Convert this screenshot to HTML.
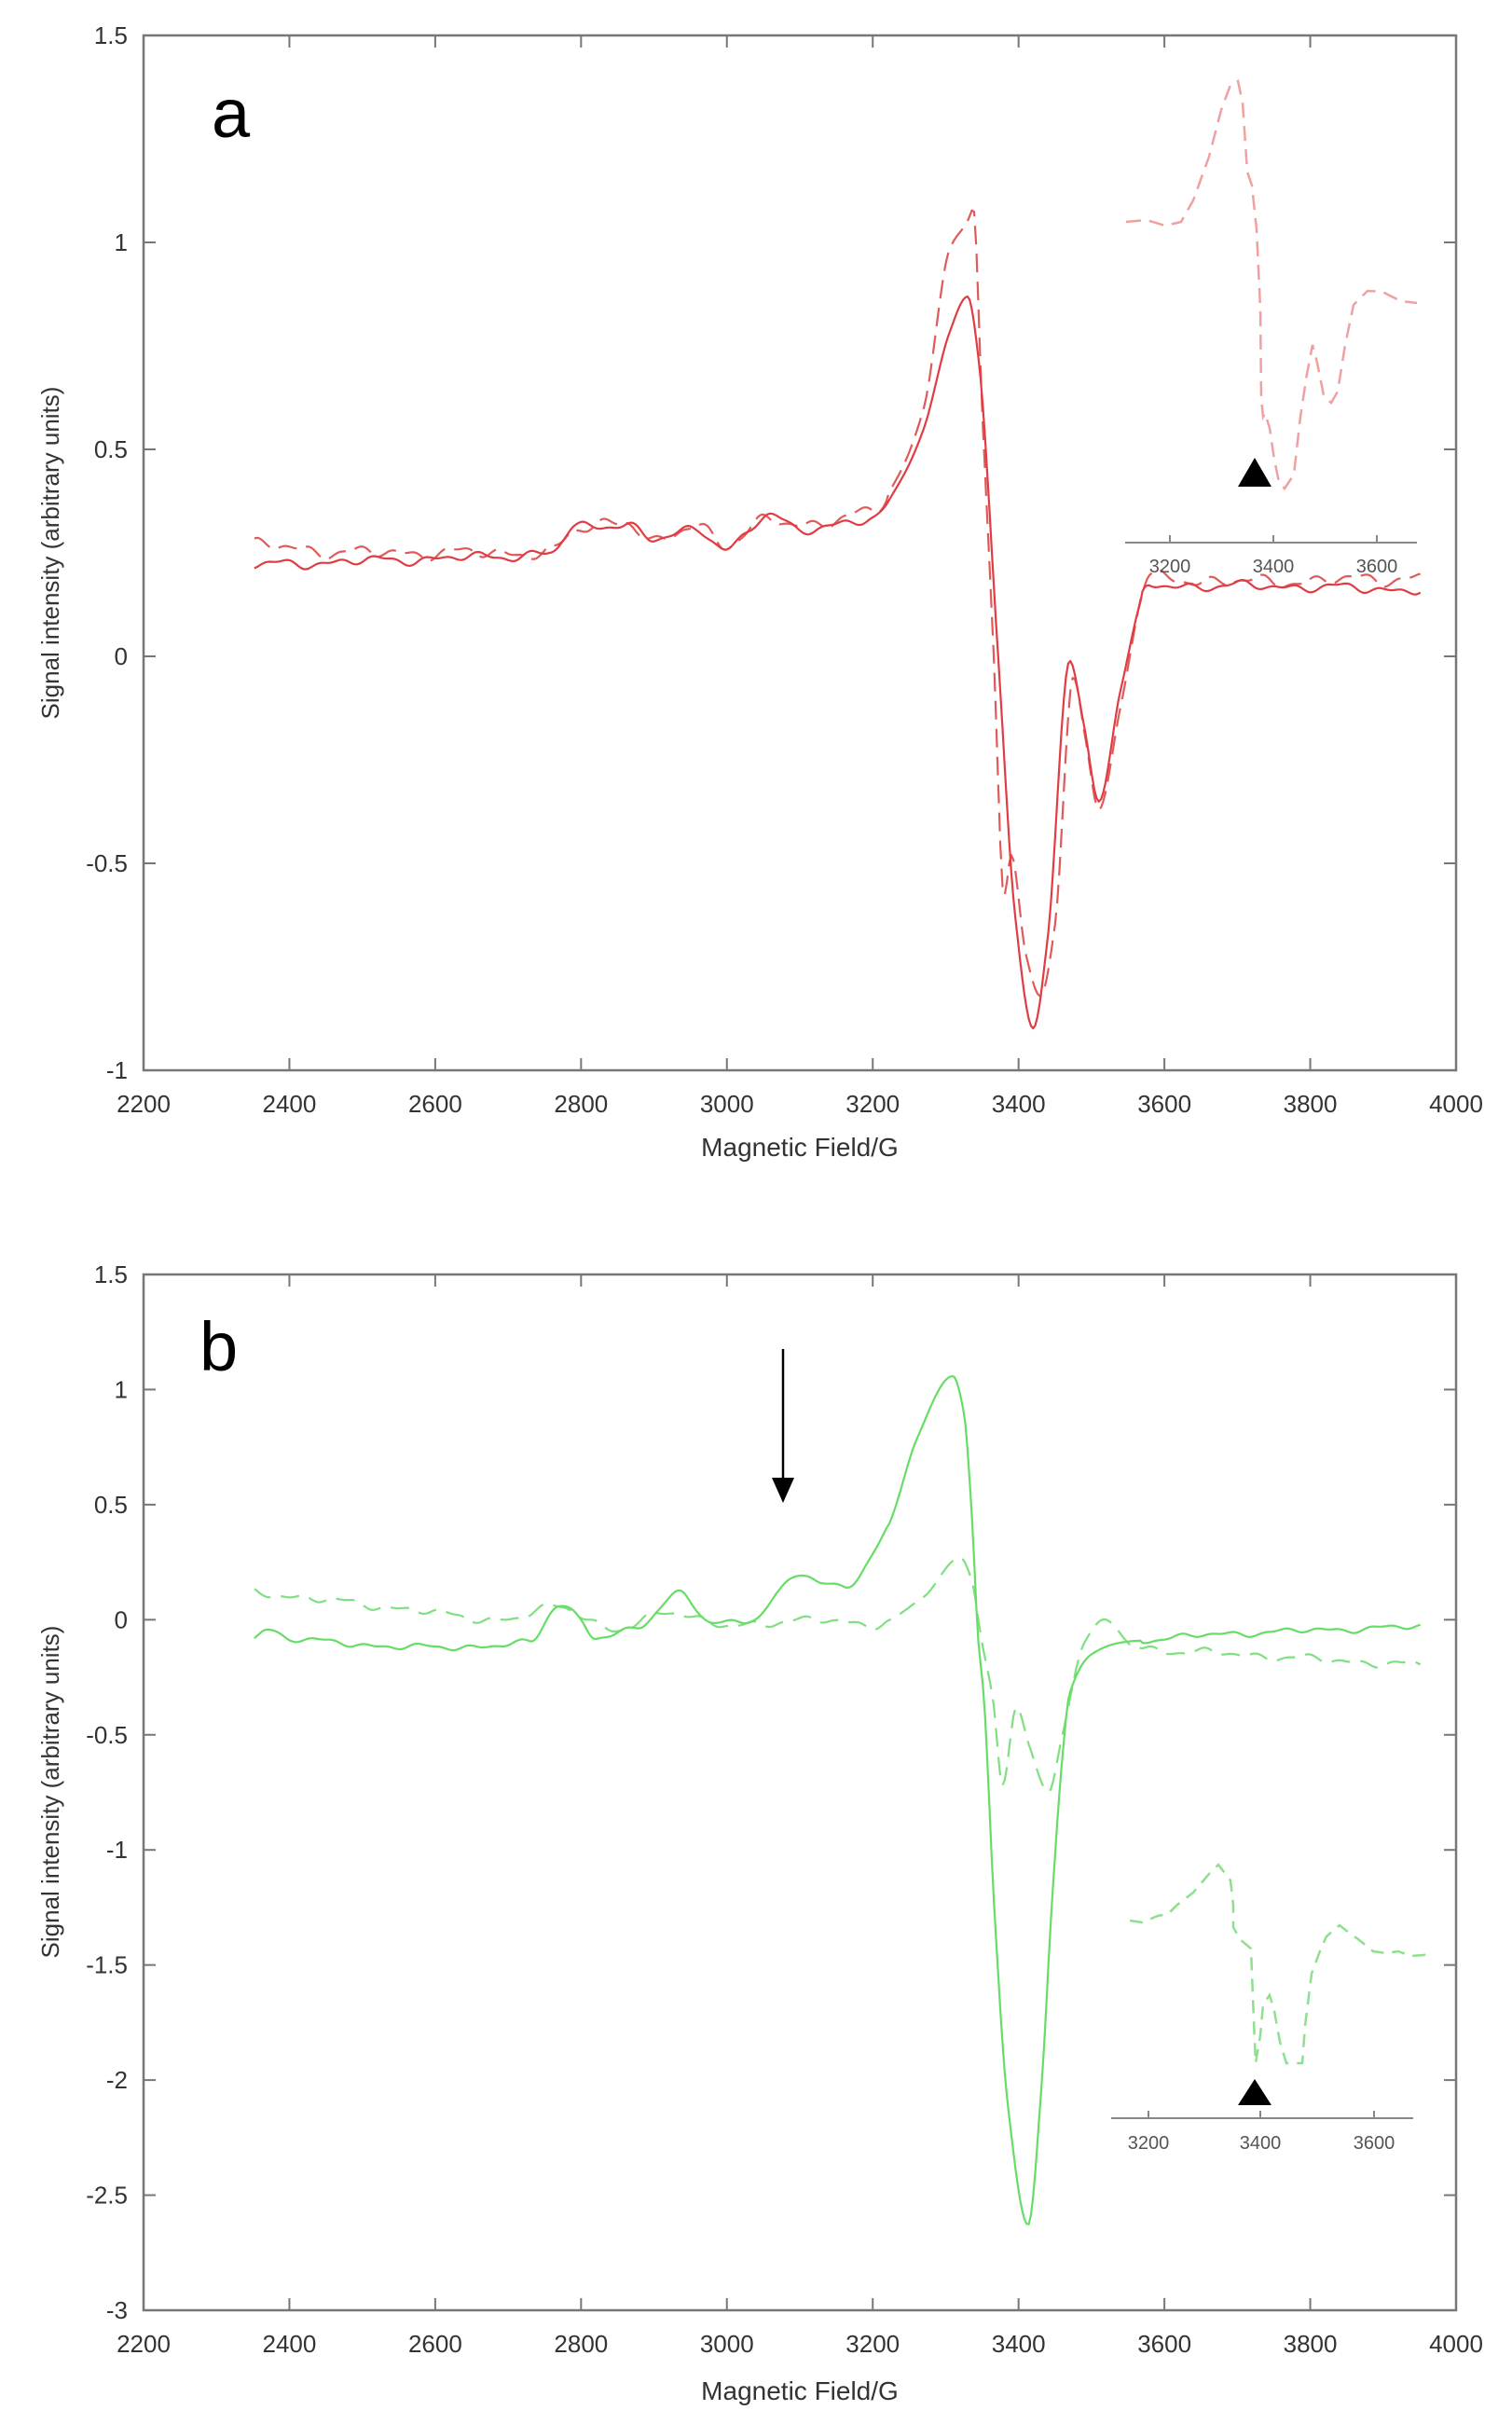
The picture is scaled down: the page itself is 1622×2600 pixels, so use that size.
<!DOCTYPE html>
<html><head><meta charset="utf-8">
<style>
html,body{margin:0;padding:0;background:#fff;}
svg{display:block;font-family:"Liberation Sans",sans-serif;}
.tk{font-size:26px;fill:#333;}
</style></head>
<body>
<svg id="s" width="1622" height="2600" viewBox="0 0 1622 2600" xmlns="http://www.w3.org/2000/svg">
<rect width="1622" height="2600" fill="#fff"/>
<g id="axes"></g>
<g id="curves"></g>
<text x="227" y="147" font-size="74" fill="#000">a</text>
<text x="214" y="1470" font-size="74" fill="#000">b</text>
<text transform="translate(63,593) rotate(-90)" text-anchor="middle" font-size="26" fill="#333">Signal intensity (arbitrary units)</text>
<text transform="translate(63,1922) rotate(-90)" text-anchor="middle" font-size="26" fill="#333">Signal intensity (arbitrary units)</text>
<text x="858" y="1240" text-anchor="middle" font-size="28" fill="#333">Magnetic Field/G</text>
<text x="858" y="2574" text-anchor="middle" font-size="28" fill="#333">Magnetic Field/G</text>
<line x1="840" y1="1447" x2="840" y2="1590" stroke="#000" stroke-width="2.5"/>
<polygon points="828,1585 852,1585 840,1612" fill="#000"/>
<line x1="1207" y1="582" x2="1520" y2="582" stroke="#888" stroke-width="2"/>
<line x1="1255" y1="582" x2="1255" y2="574" stroke="#888" stroke-width="2"/>
<line x1="1366" y1="582" x2="1366" y2="574" stroke="#888" stroke-width="2"/>
<line x1="1477" y1="582" x2="1477" y2="574" stroke="#888" stroke-width="2"/>
<text x="1255" y="614" text-anchor="middle" font-size="20" fill="#555">3200</text>
<text x="1366" y="614" text-anchor="middle" font-size="20" fill="#555">3400</text>
<text x="1477" y="614" text-anchor="middle" font-size="20" fill="#555">3600</text>
<polygon points="1346,491 1328,522 1364,522" fill="#000"/>
<polyline fill="none" stroke="#f0a0a0" stroke-width="2.5" stroke-dasharray="16,9" points="1208,238 1230,236 1250,242 1267,238 1280,215 1297,168 1310,118 1320,91 1328,87 1333,110 1338,184 1343,199 1348,246 1352,331 1353,428 1355,447 1357,443 1362,459 1367,493 1372,517 1378,524 1388,509 1395,447 1402,401 1408,370 1413,389 1420,424 1428,432 1435,420 1443,370 1452,327 1467,312 1483,313 1503,323 1520,325"/>
<line x1="1192" y1="2272" x2="1516" y2="2272" stroke="#888" stroke-width="2"/>
<line x1="1232" y1="2272" x2="1232" y2="2264" stroke="#888" stroke-width="2"/>
<line x1="1352" y1="2272" x2="1352" y2="2264" stroke="#888" stroke-width="2"/>
<line x1="1474" y1="2272" x2="1474" y2="2264" stroke="#888" stroke-width="2"/>
<text x="1232" y="2305" text-anchor="middle" font-size="20" fill="#555">3200</text>
<text x="1352" y="2305" text-anchor="middle" font-size="20" fill="#555">3400</text>
<text x="1474" y="2305" text-anchor="middle" font-size="20" fill="#555">3600</text>
<polygon points="1346,2230 1328,2258 1364,2258" fill="#000"/>
<polyline fill="none" stroke="#8ee08e" stroke-width="2.5" stroke-dasharray="14,9" points="1212,2060 1225,2062 1242,2055 1253,2053 1263,2043 1280,2030 1297,2010 1307,2000 1313,2008 1320,2017 1323,2043 1323,2067 1330,2080 1342,2090 1343,2117 1345,2167 1347,2213 1352,2183 1355,2150 1362,2140 1367,2157 1373,2190 1380,2213 1397,2213 1400,2173 1407,2117 1417,2090 1423,2077 1437,2065 1447,2073 1457,2080 1473,2093 1487,2095 1500,2093 1513,2098 1527,2097 1537,2095"/>
</svg>
<script>
(function(){
var NS="http://www.w3.org/2000/svg";
var ax=document.getElementById("axes"), cv=document.getElementById("curves");
function el(p,tag,a,txt){var e=document.createElementNS(NS,tag);for(var k in a)e.setAttribute(k,a[k]);if(txt!=null)e.textContent=txt;p.appendChild(e);return e;}
var L=154,R=1562;
function X(f){return L+(f-2200)*(R-L)/1800;}
function axes(top,bot,ymax,ymin,step){
  el(ax,"rect",{x:L,y:top,width:R-L,height:bot-top,fill:"none",stroke:"#777","stroke-width":2.5});
  for(var f=2200;f<=4000;f+=200){var x=X(f);
    el(ax,"line",{x1:x,y1:bot,x2:x,y2:bot-13,stroke:"#777","stroke-width":2});
    el(ax,"line",{x1:x,y1:top,x2:x,y2:top+13,stroke:"#777","stroke-width":2});
    el(ax,"text",{x:x,y:bot+45,"text-anchor":"middle","class":"tk"},String(f));}
  var n=Math.round((ymax-ymin)/step);
  for(var i=0;i<=n;i++){var v=ymax-i*step;var y=top+(bot-top)*i/n;
    el(ax,"line",{x1:L,y1:y,x2:L+13,y2:y,stroke:"#777","stroke-width":2});
    el(ax,"line",{x1:R,y1:y,x2:R-13,y2:y,stroke:"#777","stroke-width":2});
    var s=(Math.round(v*10)/10).toString();
    el(ax,"text",{x:137,y:y+9,"text-anchor":"end","class":"tk"},s);}
}
axes(38,1148,1.5,-1,0.5);
axes(1367,2478,1.5,-3,0.5);
function mono(pts){
  var n=pts.length,d=[],m=[];
  for(var i=0;i<n-1;i++)d.push((pts[i+1][1]-pts[i][1])/(pts[i+1][0]-pts[i][0]));
  m[0]=d[0];m[n-1]=d[n-2];
  for(var i=1;i<n-1;i++){ if(d[i-1]*d[i]<=0)m[i]=0; else m[i]=2/(1/d[i-1]+1/d[i]); }
  return function(f){
    if(f<=pts[0][0])return pts[0][1];
    for(var i=1;i<n;i++){if(f<=pts[i][0]){var a=pts[i-1],b=pts[i],h=b[0]-a[0],t=(f-a[0])/h;
      var t2=t*t,t3=t2*t;
      return (2*t3-3*t2+1)*a[1]+(t3-2*t2+t)*h*m[i-1]+(-2*t3+3*t2)*b[1]+(t3-t2)*h*m[i];}}
    return pts[n-1][1];
  };
}
function noise(f,seed){return Math.sin(f*0.091+seed)*0.5+Math.sin(f*0.047+seed*2.3)*0.35+Math.sin(f*0.173+seed*1.7)*0.3;}
function curve(pts,Y,amp,seed,stroke,dash,w){
  var fn=mono(pts),d="";
  for(var f=2352;f<=3952;f+=3){
    var v=fn(f);
    var damp=(f>3220&&f<3570)?0.1:1;
    v+=amp*damp*noise(f,seed);
    d+=(d?" L":"M")+X(f).toFixed(1)+","+Y(v).toFixed(1);
  }
  var a={d:d,fill:"none",stroke:stroke,"stroke-width":w||2.2,"stroke-linejoin":"round"};
  if(dash)a["stroke-dasharray"]=dash;
  el(cv,"path",a);
}
function YT(v){return 38+(1.5-v)*444;}
function YB(v){return 1367+(1.5-v)*246.9;}
var aS=[[2352,0.22],[2500,0.23],[2760,0.25],[2790,0.31],[2860,0.32],[2900,0.28],[2960,0.31],[3000,0.26],[3060,0.34],[3100,0.31],[3200,0.33],[3230,0.4],[3270,0.55],[3305,0.78],[3330,0.87],[3345,0.72],[3372,0.0],[3395,-0.62],[3420,-0.9],[3440,-0.68],[3470,-0.01],[3490,-0.17],[3510,-0.35],[3540,-0.08],[3580,0.17],[3700,0.17],[3952,0.16]];
var aD=[[2352,0.27],[2500,0.25],[2760,0.25],[2790,0.3],[2860,0.33],[2900,0.27],[2960,0.32],[3000,0.27],[3060,0.33],[3100,0.32],[3200,0.35],[3230,0.42],[3270,0.6],[3305,0.98],[3330,1.05],[3338,1.08],[3350,0.6],[3366,0.0],[3380,-0.58],[3390,-0.48],[3410,-0.72],[3430,-0.82],[3450,-0.65],[3475,-0.05],[3492,-0.2],[3510,-0.37],[3540,-0.12],[3580,0.19],[3700,0.18],[3952,0.19]];
curve(aD,YT,0.018,1.3,"#e05a5a","20,10",2.2);
curve(aS,YT,0.014,4.1,"#e03c44",null,2.2);
var bS=[[2352,-0.08],[2370,-0.04],[2400,-0.08],[2600,-0.12],[2730,-0.1],[2770,0.07],[2800,0.0],[2820,-0.08],[2880,-0.03],[2935,0.12],[2980,-0.02],[3040,0.01],[3070,0.12],[3100,0.2],[3130,0.15],[3160,0.15],[3220,0.4],[3260,0.78],[3310,1.06],[3325,0.9],[3335,0.5],[3345,-0.1],[3352,-0.32],[3367,-1.27],[3385,-2.1],[3413,-2.63],[3432,-2.0],[3445,-1.27],[3460,-0.6],[3470,-0.32],[3500,-0.15],[3540,-0.1],[3700,-0.06],[3952,-0.03]];
var bD=[[2352,0.12],[2550,0.05],[2700,0.0],[2770,0.06],[2850,-0.05],[2920,0.04],[3000,-0.03],[3100,0.0],[3200,-0.02],[3270,0.1],[3320,0.27],[3335,0.18],[3350,-0.1],[3365,-0.35],[3378,-0.72],[3397,-0.38],[3415,-0.55],[3441,-0.75],[3460,-0.5],[3490,-0.1],[3518,0.0],[3560,-0.12],[3700,-0.15],[3952,-0.2]];
curve(bD,YB,0.02,2.2,"#7fe07f","20,11",2.2);
curve(bS,YB,0.016,5.3,"#66dd66",null,2.2);
})();
</script>
</body></html>
